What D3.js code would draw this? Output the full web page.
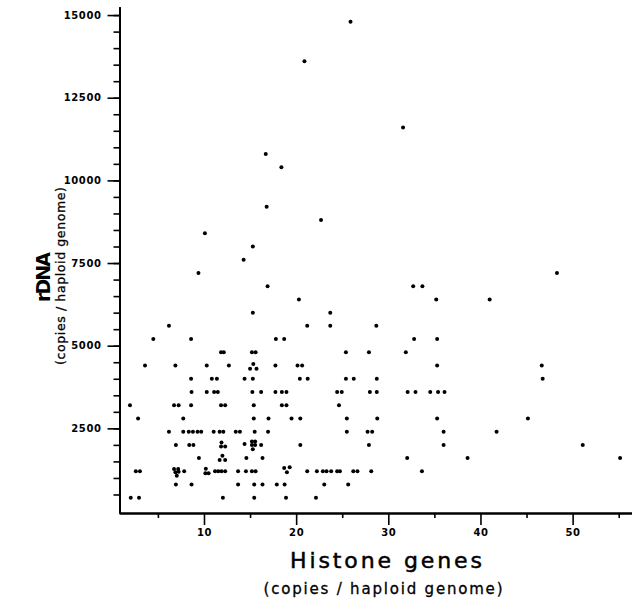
<!DOCTYPE html>
<html>
<head>
<meta charset="utf-8">
<script src="https://cdn.jsdelivr.net/npm/d3@7"></script>
<style>
body { margin: 0; background: #fff; }
.tick text { font-family: "DejaVu Sans", sans-serif; font-weight: bold; font-size: 10px; letter-spacing: 0.6px; fill: #000; }
.title { font-family: "DejaVu Sans", sans-serif; fill: #000; }
</style>
</head>
<body>
<div id="chart"></div>
<script>
// histone gene copies (x) and rDNA copies (y), one line per rDNA level
var histone = [
    25.9, 20.9, 31.6, 16.7, 18.4, 16.8, 22.7, 10.1, 15.3, 14.3,
    9.4, 48.3,
    16.9, 32.7, 33.7,
    20.3, 35.2, 41.0,
    15.3, 23.7,
    6.2, 21.2, 23.7, 28.7,
    4.5, 8.6, 17.8, 18.7, 32.8, 35.3,
    11.85, 12.15, 15.2, 15.6, 25.4, 27.9, 31.9,
    3.6, 6.9, 10.3, 12.7, 15.0, 15.35, 15.7, 17.75, 20.15, 20.65, 35.3, 46.65,
    8.6, 10.85, 11.4, 14.4, 15.3, 20.4, 21.25, 25.4, 26.25, 28.75, 46.75,
    8.65, 10.3, 11.1, 11.5, 15.25, 16.2, 17.75, 18.45, 18.95, 24.45, 24.95, 28.0, 28.75, 32.1, 32.95, 34.55, 35.4, 36.1,
    1.97, 6.75, 7.25, 8.6, 11.85, 12.3, 15.4, 18.45, 18.95, 24.65,
    2.85, 7.75, 15.4, 17.0, 19.5, 20.45, 25.5, 28.8, 35.3, 45.15,
    6.2, 7.75, 8.35, 8.8, 9.3, 9.7, 11.05, 11.7, 12.1, 13.45, 13.9, 15.5, 16.95, 25.5, 27.75, 28.25, 36.0, 41.75,
    6.95, 8.4, 8.85, 11.9, 11.85, 12.3, 14.4, 15.2, 15.55, 15.2, 15.55, 15.3, 16.2, 20.45, 27.9, 36.0, 51.1,
    9.45, 12.0, 11.7, 12.3, 14.6, 16.35, 32.05, 38.6, 55.15,
    2.6, 3.05, 6.75, 7.2, 6.9, 7.25, 7.05, 7.85, 10.2, 10.15, 10.5, 11.2, 11.55, 11.9, 12.3, 13.7, 14.55, 15.2, 15.6,
    18.7, 19.0, 19.3, 21.2, 22.25, 22.9, 23.3, 23.8, 24.45, 24.75, 26.2, 26.65, 28.15, 33.65,
    6.95, 8.65, 13.7, 15.45, 16.35, 17.9, 18.75, 23.05, 25.65,
    2.05, 2.95, 12.05, 15.45, 18.9, 22.15
];
var rdna = [
    14800, 13600, 11600, 10800, 10400, 9200, 8800, 8400, 8000, 7600,
    7200, 7200,
    6800, 6800, 6800,
    6400, 6400, 6400,
    6000, 6000,
    5600, 5600, 5600, 5600,
    5200, 5200, 5200, 5200, 5200, 5200,
    4800, 4800, 4800, 4800, 4800, 4800, 4800,
    4400, 4400, 4400, 4400, 4300, 4450, 4300, 4400, 4400, 4400, 4400, 4400,
    4000, 4000, 4000, 4000, 4000, 4000, 4000, 4000, 4000, 4000, 4000,
    3600, 3600, 3600, 3600, 3600, 3600, 3600, 3600, 3600, 3600, 3600, 3600, 3600, 3600, 3600, 3600, 3600, 3600,
    3200, 3200, 3200, 3200, 3200, 3200, 3200, 3200, 3200, 3200,
    2800, 2800, 2800, 2800, 2800, 2800, 2800, 2800, 2800, 2800,
    2400, 2400, 2400, 2400, 2400, 2400, 2400, 2400, 2400, 2400, 2400, 2400, 2400, 2400, 2400, 2400, 2400, 2400,
    2000, 2000, 2000, 2070, 1950, 1950, 2030, 2100, 2100, 2000, 2000, 1870, 2000, 2000, 2000, 2000, 2000,
    1600, 1670, 1540, 1540, 1600, 1600, 1600, 1600, 1600,
    1200, 1200, 1270, 1270, 1170, 1190, 1070, 1200, 1280, 1140, 1140, 1200, 1200, 1200, 1200, 1200, 1200, 1200, 1200,
    1300, 1170, 1320, 1200, 1200, 1200, 1200, 1200, 1200, 1200, 1200, 1200, 1200, 1200,
    800, 800, 800, 800, 800, 800, 800, 800, 800,
    400, 400, 400, 400, 400, 400
];

var xMajor = [10, 20, 30, 40, 50];
var xMinor = [5, 15, 25, 35, 45, 55];
var yMajor = [2500, 5000, 7500, 10000, 12500, 15000];
var yMinor = [500, 1000, 1500, 2000, 2500, 3000, 3500, 4000, 4500, 5000, 5500, 6000,
    6500, 7000, 7500, 8000, 8500, 9000, 9500, 10000, 10500, 11000, 11500, 12000,
    12500, 13000, 13500, 14000, 14500, 15000];

var svgwidth = 632;
var svgheight = 599;

var svg = d3.select("#chart").append("svg")
    .attr("width", svgwidth).attr("height", svgheight);

var xLinear = d3.scaleLinear().domain([0.8, 56.4]).range([119.2, 631.6]);
var yLinear = d3.scaleLinear().domain([-60, 15250]).range([513, 6.8]);

var points = histone.map(function(h, i) { return {x: h, y: rdna[i]}; });

// y axis: minor ticks, then major ticks with labels
svg.append("g").attr("transform", "translate(119.5,0)")
    .call(d3.axisLeft(yLinear).tickValues(yMinor).tickSize(6).tickSizeOuter(0).tickFormat(""));
svg.append("g").attr("transform", "translate(119.5,0)")
    .call(d3.axisLeft(yLinear).tickValues(yMajor).tickSize(12).tickSizeOuter(0).tickPadding(6)
        .tickFormat(d3.format("d")));

// x axis
svg.append("g").attr("transform", "translate(0,513)")
    .call(d3.axisBottom(xLinear).tickValues(xMinor).tickSize(5).tickSizeOuter(0).tickFormat(""));
svg.append("g").attr("transform", "translate(0,513)")
    .call(d3.axisBottom(xLinear).tickValues(xMajor).tickSize(12).tickSizeOuter(0).tickPadding(4)
        .tickFormat(d3.format("d")));

svg.selectAll(".domain").attr("stroke", "#000").attr("stroke-width", 2);
svg.selectAll(".tick line").attr("stroke", "#000").attr("stroke-width", 1.6);

svg.selectAll("circle.pt")
    .data(points)
    .enter()
    .append("circle")
    .attr("class", "pt")
    .attr("cx", d => xLinear(d.x))
    .attr("cy", d => yLinear(d.y))
    .attr("r", 2)
    .attr("fill", "#000");

// axis titles
svg.append("text")
    .attr("class", "title")
    .attr("text-anchor", "middle")
    .attr("x", 386)
    .attr("y", 568)
    .attr("font-size", 22)
    .attr("stroke", "#000")
    .attr("stroke-width", 0.5)
    .attr("textLength", 192)
    .attr("lengthAdjust", "spacing")
    .text("Histone genes");

svg.append("text")
    .attr("class", "title")
    .attr("text-anchor", "middle")
    .attr("x", 383)
    .attr("y", 594)
    .attr("font-size", 15)
    .attr("stroke", "#000")
    .attr("stroke-width", 0.3)
    .attr("textLength", 239)
    .attr("lengthAdjust", "spacing")
    .text("(copies / haploid genome)");

svg.append("text")
    .attr("class", "title")
    .attr("text-anchor", "middle")
    .attr("transform", "translate(50,277) rotate(-90)")
    .attr("font-size", 19)
    .attr("font-weight", "bold")
    .attr("textLength", 50)
    .attr("lengthAdjust", "spacing")
    .text("rDNA");

svg.append("text")
    .attr("class", "title")
    .attr("text-anchor", "middle")
    .attr("transform", "translate(65,276) rotate(-90)")
    .attr("font-size", 12.5)
    .attr("stroke", "#000")
    .attr("stroke-width", 0.3)
    .attr("textLength", 178)
    .attr("lengthAdjust", "spacing")
    .text("(copies / haploid genome)");
</script>
</body>
</html>
